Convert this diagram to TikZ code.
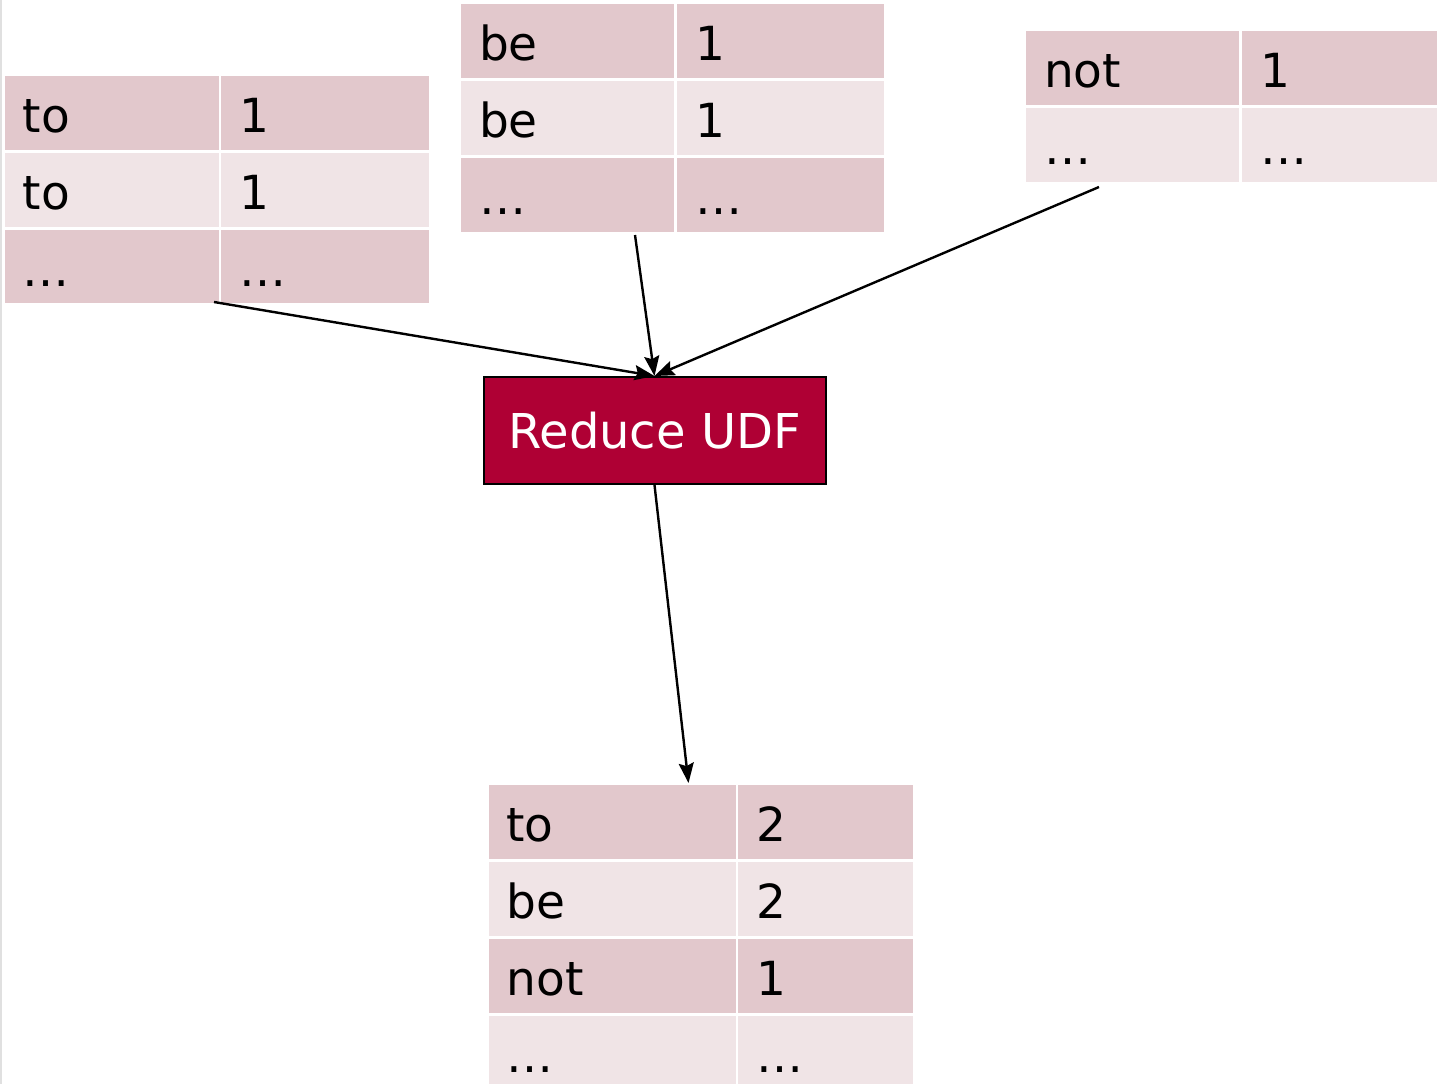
\documentclass[tikz,border=0pt]{standalone}
\usepackage{fontspec}
\setmainfont{DejaVu Sans}
\usetikzlibrary{arrows.meta,calc}
\definecolor{celldark}{RGB}{226,200,204}
\definecolor{celllight}{RGB}{240,228,230}
\definecolor{udfred}{RGB}{175,0,52}
\definecolor{edgegray}{RGB}{224,224,224}
\tikzset{
  cellbox/.style={rectangle, inner sep=0pt, outer sep=0pt, draw=none},
  celltext/.style={inner sep=0pt, outer sep=0pt, text=black, font=\fontsize{47}{56}\selectfont},
  udfbox/.style={rectangle, draw=black, line width=2pt, fill=udfred, text=white,
    minimum width=342pt, minimum height=107pt, inner sep=0pt, font=\fontsize{48}{58}\selectfont},
  flow/.style={draw=black, line width=2.4pt, -{Stealth[length=20pt, width=15pt, inset=3pt]}},
}
\newcommand\mycell[7]{%
  \node[cellbox, fill=#6, minimum width=#4pt, minimum height=#5pt, anchor=north west] (#1) at (#2,#3) {};
  \node[celltext, anchor=base west] (#1t) at ($(#1.north west)+(18,56.5)$) {#7};
}
\begin{document}
\begin{tikzpicture}[x=1pt, y=-1pt]
\useasboundingbox (0,0) rectangle (1437,1084);
\fill[white] (0,0) rectangle (1437,1084);
\coordinate (eT) at (1,0);
\coordinate (eB) at (1,1084);
\draw[edgegray, line width=2pt] (eT) -- (eB);

% Table 1 (left)
\mycell{aa}{5}{75.5}{214}{74}{celldark}{to}
\mycell{ab}{221}{75.5}{208}{74}{celldark}{1}
\mycell{ba}{5}{152.5}{214}{74}{celllight}{to}
\mycell{bb}{221}{152.5}{208}{74}{celllight}{1}
\mycell{ca}{5}{229.5}{214}{73.5}{celldark}{…}
\mycell{cb}{221}{229.5}{208}{73.5}{celldark}{…}

% Table 2 (middle)
\mycell{da}{461}{4}{213}{74}{celldark}{be}
\mycell{db}{677}{4}{207}{74}{celldark}{1}
\mycell{ea}{461}{81}{213}{74}{celllight}{be}
\mycell{eb}{677}{81}{207}{74}{celllight}{1}
\mycell{fa}{461}{158}{213}{74}{celldark}{…}
\mycell{fb}{677}{158}{207}{74}{celldark}{…}

% Table 3 (right)
\mycell{ga}{1026}{31}{213}{74}{celldark}{not}
\mycell{gb}{1242}{31}{195}{74}{celldark}{1}
\mycell{ha}{1026}{108}{213}{74}{celllight}{…}
\mycell{hb}{1242}{108}{195}{74}{celllight}{…}

% Table 4 (bottom)
\mycell{ia}{488.5}{785}{247}{74}{celldark}{to}
\mycell{ib}{738}{785}{174.5}{74}{celldark}{2}
\mycell{ja}{488.5}{862}{247}{74}{celllight}{be}
\mycell{jb}{738}{862}{174.5}{74}{celllight}{2}
\mycell{ka}{488.5}{939}{247}{74}{celldark}{not}
\mycell{kb}{738}{939}{174.5}{74}{celldark}{1}
\mycell{la}{488.5}{1016}{247}{68}{celllight}{…}
\mycell{lb}{738}{1016}{174.5}{68}{celllight}{…}

% Reduce UDF
\node[udfbox] (udf) at (654.5,430.5) {Reduce UDF};

% connectors
\coordinate (s1) at (214,302);
\coordinate (s2) at (635,235);
\coordinate (s3) at (1099,187);
\coordinate (out) at (688.5,783);
\draw[flow] (s1) -- (udf.north);
\draw[flow] (s2) -- (udf.north);
\draw[flow] (s3) -- (udf.north);
\draw[flow] (udf.south) -- (out);
\end{tikzpicture}
\end{document}
